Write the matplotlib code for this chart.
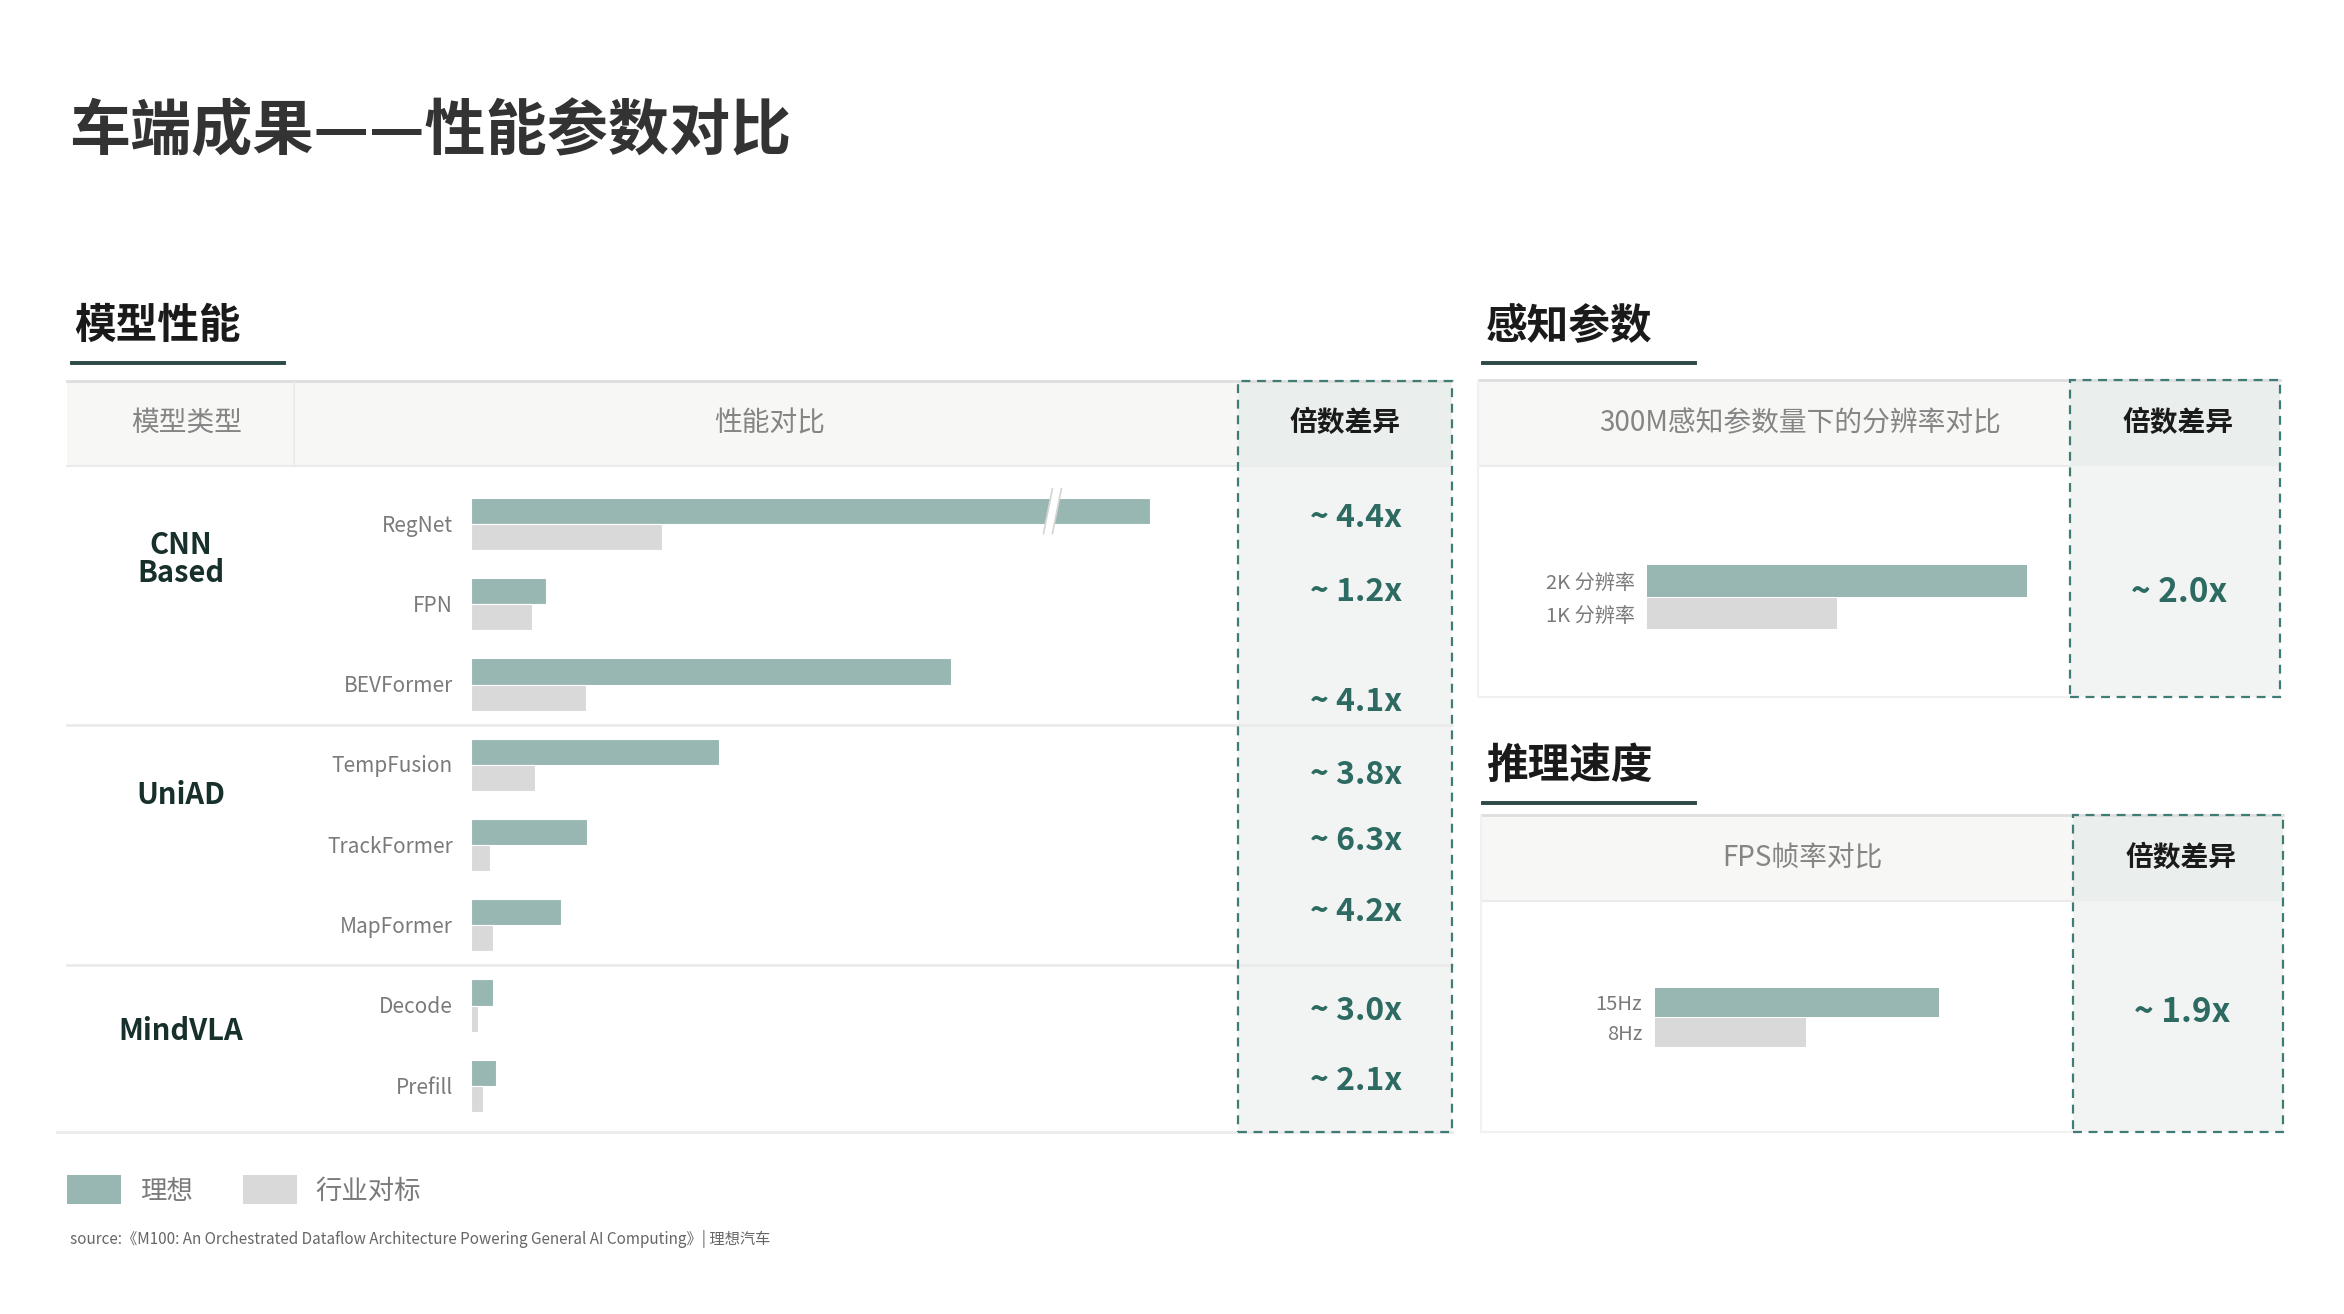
import numpy as np
import matplotlib.pyplot as plt
from matplotlib.patches import Rectangle, Patch, Polygon
from matplotlib.lines import Line2D
from matplotlib.transforms import blended_transform_factory

plt.rcParams['font.family'] = ['Noto Sans CJK SC', 'DejaVu Sans']

# ---- data ----
groups = ['CNN\nBased', 'UniAD', 'MindVLA']
group_sizes = [3, 3, 2]
models = ['RegNet', 'FPN', 'BEVFormer', 'TempFusion', 'TrackFormer', 'MapFormer', 'Decode', 'Prefill']
# relative bar lengths as drawn (RegNet ideal bar is shown with an axis break)
lixiang = [454, 50, 321, 166, 78, 60, 15, 17]
industry = [128, 41, 77, 43, 13, 15, 5, 8]
ratios = ['~ 4.4x', '~ 1.2x', '~ 4.1x', '~ 3.8x', '~ 6.3x', '~ 4.2x', '~ 3.0x', '~ 2.1x']

res_labels = ['2K 分辨率', '1K 分辨率']
res_values = [2, 1]
res_ratio = '~ 2.0x'

fps_labels = ['15Hz', '8Hz']
fps_values = [15, 8]
fps_ratio = '~ 1.9x'

legend_labels = ['理想', '行业对标']
source = 'source:《M100: An Orchestrated Dataflow Architecture Powering General AI Computing》| 理想汽车'

# ---- style ----
TEAL = '#98b7b3'
GRAY = '#d9d9d9'
DARK = '#2d6a62'
HEAD_BG = '#f7f7f5'
COL_BG = '#f1f4f2'
COL_HEAD = '#eaeeec'
LINE = '#ebebeb'
TXT_GRAY = '#858585'

W, H = 1568, 879  # layout grid


def fx(x):
    return x / W


def fy(y):
    return 1 - y / H


fig = plt.figure(figsize=(23.44, 13.14), dpi=100)
fig.patch.set_facecolor('white')


def rect(x0, y0, x1, y1, **kw):
    r = Rectangle((fx(x0), fy(y1)), (x1 - x0) / W, (y1 - y0) / H,
                  transform=fig.transFigure, **kw)
    fig.add_artist(r)
    return r


def hline(x0, x1, y, color=LINE, lw=1.5, z=-1):
    fig.add_artist(Line2D([fx(x0), fx(x1)], [fy(y), fy(y)], transform=fig.transFigure,
                          color=color, lw=lw, zorder=z))


def vline(x, y0, y1, color=LINE, lw=1.5, z=-1):
    fig.add_artist(Line2D([fx(x), fx(x)], [fy(y0), fy(y1)], transform=fig.transFigure,
                          color=color, lw=lw, zorder=z))


def dashed_box(x0, y0, x1, y1):
    rect(x0, y0, x1, y1, fill=False, edgecolor='#3f7d74', lw=1.6,
         linestyle=(0, (4, 3)), zorder=5)


# title
fig.text(fx(46), fy(88), '车端成果——性能参数对比', fontsize=44, fontweight='heavy',
         color='#333333', va='center', ha='left')

# section headings
for txt, x, y in [('模型性能', 50, 218), ('感知参数', 994, 218), ('推理速度', 994, 512)]:
    fig.text(fx(x), fy(y), txt, fontsize=30, fontweight='heavy', color='#1a1a1a',
             va='center', ha='left')
    hline(x - 2, x + 140, y + 25, color='#2b4a45', lw=2.8, z=1)

# ================= left table =================
rect(45, 255, 828, 312, facecolor=HEAD_BG, edgecolor='none', zorder=-3)
rect(828, 255, 971, 757, facecolor=COL_BG, edgecolor='none', zorder=-3)
rect(828, 255, 971, 312, facecolor=COL_HEAD, edgecolor='none', zorder=-2)
hline(45, 971, 255, color='#dedede', lw=2)
hline(45, 971, 312)
vline(197, 256, 312)
dashed_box(828, 255, 971, 757)

fig.text(fx(125), fy(283), '模型类型', fontsize=20, color=TXT_GRAY, ha='center', va='center')
fig.text(fx(515), fy(283), '性能对比', fontsize=20, color=TXT_GRAY, ha='center', va='center')
fig.text(fx(900), fy(283), '倍数差异', fontsize=20, fontweight='bold', color='#1a1a1a',
         ha='center', va='center')

ax = fig.add_axes([fx(315), fy(757), (828 - 315) / W, (757 - 312) / H])
ax.patch.set_alpha(0)
idx = np.arange(len(models))
h = 0.326
ax.barh(idx - h / 2, lixiang, height=h, color=TEAL, edgecolor='white', lw=0.8)
ax.barh(idx + h / 2, industry, height=h, color=GRAY, edgecolor='white', lw=0.8)
ax.set_xlim(0, 513)
ax.set_ylim(7.57, -0.717)
ax.set_yticks(idx - 0.01, models)
ax.tick_params(axis='y', length=0, pad=13, labelsize=15, labelcolor='#7a7a7a')
ax.set_xticks([])
for s in ax.spines.values():
    s.set_visible(False)

# axis break on RegNet
bx = 386
ax.add_patch(Polygon([[bx - 3, 0.12], [bx + 3, -0.44], [bx + 9, -0.44], [bx + 3, 0.12]],
                     closed=True, facecolor='white', edgecolor='none', zorder=4))
for dx in (0, 6):
    ax.add_line(Line2D([bx - 3 + dx, bx + 3 + dx], [0.12, -0.44], color='#d4d4d4', lw=1.2, zorder=5))

# group separators and labels
btr = blended_transform_factory(fig.transFigure, ax.transData)
edges = np.cumsum(group_sizes)[:-1] - 0.5
for e in edges:
    fig.add_artist(Line2D([fx(45), fx(971)], [e, e], transform=btr, color=LINE, lw=2, zorder=-1))
hline(38, 971, 757, lw=2)

group_y = [374, 532, 690]
for g, gy in zip(groups, group_y):
    fig.text(fx(121), fy(gy), g, fontsize=21, fontweight='bold', color='#17302b',
             ha='center', va='center', linespacing=0.95)

ratio_dy = [-0.08, -0.15, 0.22, 0.13, -0.05, -0.17, 0.07, -0.06]
for i, (r, d) in enumerate(zip(ratios, ratio_dy)):
    fig.text(fx(907), i + d, r, transform=btr, fontsize=23, fontweight='bold', color=DARK,
             ha='center', va='center')


# ================= right panels =================
def side_panel(x0, x_col, x1, y0, y_head, y1, header, labels, values, bar_x0, c0, step, xmax, ratio):
    rect(x0, y0, x_col, y_head, facecolor=HEAD_BG, edgecolor='none', zorder=-3)
    rect(x_col, y0, x1, y1, facecolor=COL_BG, edgecolor='none', zorder=-3)
    rect(x_col, y0, x1, y_head, facecolor=COL_HEAD, edgecolor='none', zorder=-2)
    hline(x0, x1, y0, color='#dedede', lw=2)
    hline(x0, x_col, y_head)
    hline(x0, x_col, y1, color='#f1f1f1')
    vline(x0, y0, y1, color='#f1f1f1')
    dashed_box(x_col, y0, x1, y1)
    fig.text(fx(x0 + 215), fy((y0 + y_head) / 2), header, fontsize=20,
             color=TXT_GRAY, ha='center', va='center')
    fig.text(fx((x_col + x1) / 2 + 2), fy((y0 + y_head) / 2), '倍数差异', fontsize=20,
             fontweight='bold', color='#1a1a1a', ha='center', va='center')

    a = fig.add_axes([fx(bar_x0), fy(y1), (x_col - bar_x0) / W, (y1 - y_head) / H])
    a.patch.set_alpha(0)
    a.barh([0], values[0], height=0.96, color=TEAL)
    a.barh([1], values[1], height=0.96, color=GRAY)
    a.set_xlim(0, xmax)
    a.set_ylim((y1 - c0) / step, (y_head - c0) / step)
    a.set_yticks([0, 1], labels)
    a.tick_params(axis='y', length=0, pad=9, labelsize=14.5, labelcolor='#7a7a7a')
    a.set_xticks([])
    for s in a.spines.values():
        s.set_visible(False)
    fig.text(fx((x_col + x1) / 2 + 3), fy((c0 + c0 + step) / 2 - 3), ratio, fontsize=24,
             fontweight='bold', color=DARK, ha='center', va='center')


side_panel(989, 1385, 1525, 254, 312, 466, '300M感知参数量下的分辨率对比',
           res_labels, res_values, 1102, 388.5, 22, 2 * 283 / 254, res_ratio)
side_panel(991, 1387, 1527, 545, 603, 757, 'FPS帧率对比',
           fps_labels, fps_values, 1107, 670.5, 20, 15 * 280 / 190, fps_ratio)

# legend
fig.legend(handles=[Patch(facecolor=TEAL, edgecolor='none'), Patch(facecolor=GRAY, edgecolor='none')],
           labels=legend_labels, loc='center left', bbox_to_anchor=(fx(45), fy(796)),
           ncol=2, frameon=False, fontsize=19, handlelength=2.05, handleheight=1.3,
           handletextpad=0.7, columnspacing=1.9, labelcolor='#7a7a7a',
           borderpad=0, borderaxespad=0)

fig.text(fx(47), fy(829), source, fontsize=11, color='#666666', ha='left', va='center')

fig.savefig('out.png', dpi=100, facecolor='white')
